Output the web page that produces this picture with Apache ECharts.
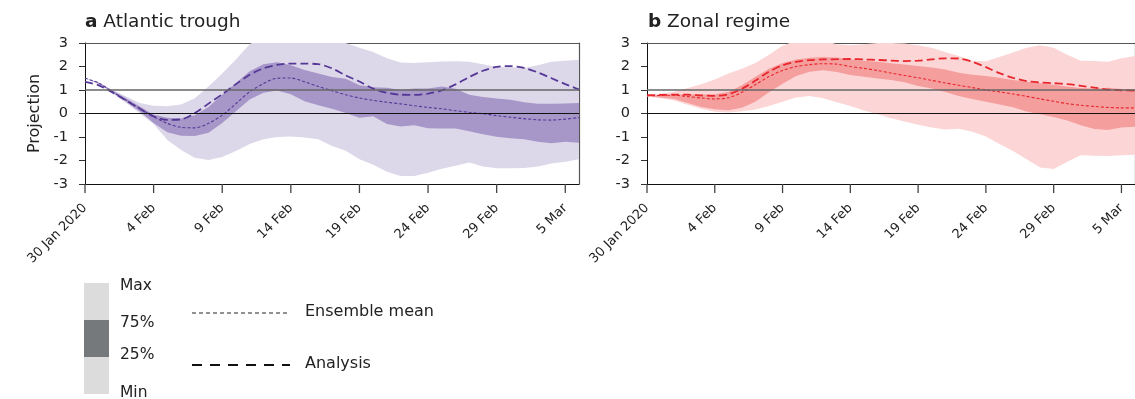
<!DOCTYPE html>
<html>
<head>
<meta charset="utf-8">
<script src="https://cdn.jsdelivr.net/npm/echarts@6/dist/echarts.min.js"></script>
<style>
  html, body { margin: 0; padding: 0; background: #fff; }
  #chart { width: 1135px; height: 399px; }
</style>
</head>
<body>
<div id="chart"></div>
<script>
// days since 30 Jan 2020 (x position of each daily value)
const days = Array.from({ length: 37 }, (_, i) => i);
const tickDays = [0, 5, 10, 15, 20, 25, 30, 35];
const tickLabels = ["30 Jan 2020", "4 Feb", "9 Feb", "14 Feb", "19 Feb", "24 Feb", "29 Feb", "5 Mar"];

// a Atlantic trough
const aMax = [1.5,1.32,1.0,0.72,0.45,0.33,0.31,0.38,0.65,1.15,1.7,2.3,2.95,3.3,3.3,3.3,3.3,3.2,3.1,3.0,2.8,2.62,2.35,2.17,2.15,2.18,2.21,2.22,2.2,2.1,1.98,1.98,1.94,2.05,2.2,2.25,2.29];
const a75 = [1.5,1.32,0.98,0.65,0.3,-0.05,-0.18,-0.21,-0.07,0.28,0.8,1.3,1.8,2.1,2.18,2.05,1.85,1.7,1.55,1.48,1.2,1.12,1.1,1.0,1.06,1.06,1.15,1.05,0.8,0.7,0.64,0.58,0.48,0.42,0.42,0.43,0.45];
const a25 = [1.5,1.28,0.9,0.5,0.08,-0.4,-0.8,-0.95,-0.96,-0.82,-0.4,0.1,0.6,0.88,0.98,0.82,0.52,0.35,0.2,0.02,-0.18,-0.12,-0.45,-0.55,-0.5,-0.63,-0.64,-0.64,-0.75,-0.88,-0.99,-1.05,-1.1,-1.2,-1.27,-1.2,-1.24];
const aMin = [1.5,1.25,0.85,0.45,0.0,-0.45,-1.13,-1.55,-1.88,-1.98,-1.85,-1.6,-1.3,-1.1,-1.0,-0.98,-1.02,-1.1,-1.38,-1.58,-1.95,-2.18,-2.48,-2.66,-2.66,-2.52,-2.35,-2.22,-2.09,-2.25,-2.33,-2.33,-2.32,-2.25,-2.13,-2.05,-1.95];
const aMean = [1.5,1.3,0.92,0.57,0.21,-0.14,-0.42,-0.59,-0.61,-0.42,-0.07,0.42,0.92,1.27,1.5,1.51,1.35,1.15,0.97,0.8,0.66,0.56,0.48,0.41,0.33,0.26,0.2,0.12,0.05,-0.01,-0.09,-0.16,-0.22,-0.27,-0.28,-0.24,-0.17];
const aAnalysis = [1.35,1.2,0.9,0.55,0.2,-0.12,-0.27,-0.25,0.02,0.42,0.82,1.25,1.65,1.92,2.07,2.12,2.12,2.1,1.92,1.62,1.36,1.06,0.88,0.8,0.79,0.85,0.98,1.24,1.55,1.82,1.98,2.02,1.94,1.75,1.5,1.25,1.02];

// b Zonal regime
const bMax = [0.78,0.85,0.93,1.08,1.25,1.45,1.7,1.9,2.15,2.5,2.88,3.1,3.15,3.1,2.95,2.9,2.95,3.0,3.0,2.98,2.9,2.8,2.62,2.45,2.25,2.22,2.4,2.6,2.8,2.9,2.8,2.5,2.25,2.23,2.2,2.35,2.45];
const b75 = [0.76,0.79,0.81,0.82,0.81,0.82,0.92,1.2,1.56,1.9,2.15,2.3,2.37,2.4,2.38,2.3,2.25,2.2,2.14,2.08,2.02,1.96,1.87,1.73,1.65,1.6,1.52,1.43,1.35,1.29,1.22,1.15,1.08,1.06,1.1,1.04,1.0];
const b25 = [0.74,0.68,0.62,0.45,0.28,0.18,0.14,0.25,0.5,0.9,1.27,1.6,1.78,1.84,1.77,1.64,1.56,1.49,1.43,1.33,1.17,1.06,0.92,0.75,0.62,0.5,0.38,0.27,0.09,-0.03,-0.15,-0.3,-0.5,-0.66,-0.7,-0.6,-0.56];
const bMin = [0.72,0.65,0.55,0.37,0.2,0.07,0.04,0.1,0.17,0.32,0.5,0.68,0.75,0.65,0.48,0.32,0.13,-0.03,-0.2,-0.34,-0.48,-0.6,-0.68,-0.65,-0.78,-0.98,-1.3,-1.6,-1.95,-2.3,-2.36,-2.05,-1.78,-1.8,-1.81,-1.78,-1.76];
const bMean = [0.75,0.77,0.78,0.72,0.66,0.62,0.67,0.9,1.23,1.57,1.83,2.0,2.08,2.12,2.1,2.0,1.92,1.83,1.72,1.62,1.52,1.41,1.3,1.2,1.1,1.0,0.92,0.83,0.73,0.62,0.52,0.42,0.35,0.3,0.26,0.24,0.24];
const bAnalysis = [0.78,0.79,0.8,0.8,0.77,0.75,0.82,1.05,1.4,1.78,2.05,2.2,2.27,2.3,2.31,2.32,2.3,2.28,2.25,2.23,2.25,2.3,2.35,2.34,2.2,1.97,1.72,1.52,1.38,1.32,1.29,1.25,1.18,1.1,1.02,0.99,0.97];

const FONT = "DejaVu Sans, Liberation Sans, sans-serif";
const TXT = "#222";

const pairs = (arr) => arr.map((v, i) => [days[i], v]);

const chart = echarts.init(document.getElementById("chart"));

function xAxes(gi) {
  return [
    {
      type: "value", gridIndex: gi, position: "bottom", min: 0, max: 36, interval: 5,
      axisLine: { show: true, onZero: false, lineStyle: { color: "#111", width: 1 } },
      axisTick: { show: false },
      axisLabel: {
        rotate: 45, margin: 22, fontSize: 13, color: TXT, fontFamily: FONT,
        showMaxLabel: false,
        formatter: (v) => tickLabels[tickDays.indexOf(v)] || ""
      },
      splitLine: { show: false }
    },
    {
      type: "value", gridIndex: gi, position: "top", min: 0, max: 36,
      axisLine: { show: true, onZero: false, lineStyle: { color: "#555", width: 1.2 } },
      axisTick: { show: false }, axisLabel: { show: false }, splitLine: { show: false }
    }
  ];
}

function yAxes(gi, withName) {
  return [
    {
      type: "value", gridIndex: gi, position: "left", min: -3, max: 3, interval: 1,
      name: withName ? "Projection" : "", nameLocation: "middle", nameGap: 42, nameRotate: 90,
      nameTextStyle: { fontSize: 16, color: TXT, fontFamily: FONT },
      axisLine: { show: true, onZero: false, lineStyle: { color: "#111", width: 1 } },
      axisTick: { show: true, length: 6, lineStyle: { color: "#333", width: 1 } },
      axisLabel: { fontSize: 14.5, color: TXT, fontFamily: FONT, margin: 17 },
      splitLine: { show: false }
    },
    {
      type: "value", gridIndex: gi, position: "right", min: -3, max: 3,
      axisLine: { show: true, onZero: false, lineStyle: { color: "#555", width: 1.2 } },
      axisTick: { show: false }, axisLabel: { show: false }, splitLine: { show: false }
    }
  ];
}

// filled band between two value arrays, drawn through the axis scales
function band(idx, lo, hi, color) {
  return {
    type: "custom", xAxisIndex: idx * 2, yAxisIndex: idx * 2, silent: true, animation: false,
    data: [[0, 0]],
    renderItem: (params, api) => {
      const top = days.map((d, i) => api.coord([d, hi[i]]));
      const bot = days.map((d, i) => api.coord([d, lo[i]])).reverse();
      const cs = params.coordSys;
      return {
        type: "polygon",
        shape: { points: top.concat(bot) },
        style: { fill: color, stroke: null },
        clipPath: { type: "rect", shape: { x: cs.x, y: cs.y, width: cs.width, height: cs.height } }
      };
    }
  };
}

// outward date ticks under the bottom axis
function dateTicks(idx) {
  return {
    type: "custom", xAxisIndex: idx * 2, yAxisIndex: idx * 2, silent: true, animation: false,
    clip: false, z: 10,
    data: tickDays.map((d) => [d, -3]),
    renderItem: (params, api) => {
      const p = api.coord([api.value(0), api.value(1)]);
      return {
        type: "line",
        shape: { x1: p[0], y1: p[1], x2: p[0], y2: p[1] + 9 },
        style: { stroke: "#444", lineWidth: 1.3, fill: null }
      };
    }
  };
}

function panelSeries(idx, d, c) {
  const base = {
    type: "line", xAxisIndex: idx * 2, yAxisIndex: idx * 2, showSymbol: false, symbol: "none",
    smooth: 0.3, silent: true, animation: false
  };
  return [
    band(idx, d.min, d.max, c.light),
    band(idx, d.q25, d.q75, c.dark),
    Object.assign({}, base, {
      name: "Ensemble mean", data: pairs(d.mean), lineStyle: { color: c.line, width: 1.1, type: [3, 2] },
      markLine: {
        silent: true, symbol: "none", label: { show: false }, animation: false,
        data: [
          { yAxis: 1, lineStyle: { color: "#666", width: 1.5, type: "solid" } },
          { yAxis: 0, lineStyle: { color: "#111", width: 1, type: "solid" } }
        ]
      }
    }),
    Object.assign({}, base, { name: "Analysis", data: pairs(d.ana), lineStyle: { color: c.line, width: 1.8, type: [8, 4] } }),
    dateTicks(idx)
  ];
}

const titleStyle = {
  fontSize: 18.5, fontWeight: "normal", color: TXT, fontFamily: FONT,
  rich: { b: { fontSize: 18.5, fontWeight: "bold", color: TXT, fontFamily: FONT } }
};

const option = {
  backgroundColor: "#fff",
  title: [
    { left: 85, top: 13, padding: 0, text: "{b|a} Atlantic trough", textStyle: titleStyle },
    { left: 648, top: 13, padding: 0, text: "{b|b} Zonal regime", textStyle: titleStyle }
  ],
  grid: [
    { left: 85, top: 43, width: 494, height: 141 },
    { left: 647, top: 43, width: 494, height: 141 }
  ],
  xAxis: [...xAxes(0), ...xAxes(1)],
  yAxis: [...yAxes(0, true), ...yAxes(1, false)],
  series: [
    ...panelSeries(0, { min: aMin, max: aMax, q25: a25, q75: a75, mean: aMean, ana: aAnalysis },
      { light: "#ddd7ea", dark: "#a796c8", line: "#553896" }),
    ...panelSeries(1, { min: bMin, max: bMax, q25: b25, q75: b75, mean: bMean, ana: bAnalysis },
      { light: "#fcd6d6", dark: "#f59e9e", line: "#e8262c" })
  ],
  graphic: [
    { type: "rect", shape: { x: 84, y: 283, width: 25, height: 37 }, style: { fill: "#dcdcdc" } },
    { type: "rect", shape: { x: 84, y: 320, width: 25, height: 37 }, style: { fill: "#76797c" } },
    { type: "rect", shape: { x: 84, y: 357, width: 25, height: 37 }, style: { fill: "#dcdcdc" } },
    { type: "text", x: 120, y: 286, style: { text: "Max", font: "15.5px " + FONT, fill: TXT, verticalAlign: "middle" } },
    { type: "text", x: 120, y: 323, style: { text: "75%", font: "15.5px " + FONT, fill: TXT, verticalAlign: "middle" } },
    { type: "text", x: 120, y: 355, style: { text: "25%", font: "15.5px " + FONT, fill: TXT, verticalAlign: "middle" } },
    { type: "text", x: 120, y: 393, style: { text: "Min", font: "15.5px " + FONT, fill: TXT, verticalAlign: "middle" } },
    { type: "line", shape: { x1: 192, y1: 313, x2: 290, y2: 313 }, style: { stroke: "#222", lineWidth: 1, lineDash: [4, 3] } },
    { type: "line", shape: { x1: 192, y1: 365, x2: 290, y2: 365 }, style: { stroke: "#111", lineWidth: 2, lineDash: [10, 8] } },
    { type: "text", x: 305, y: 312, style: { text: "Ensemble mean", font: "16px " + FONT, fill: TXT, verticalAlign: "middle" } },
    { type: "text", x: 305, y: 364, style: { text: "Analysis", font: "16px " + FONT, fill: TXT, verticalAlign: "middle" } }
  ]
};

chart.setOption(option);
</script>
</body>
</html>
